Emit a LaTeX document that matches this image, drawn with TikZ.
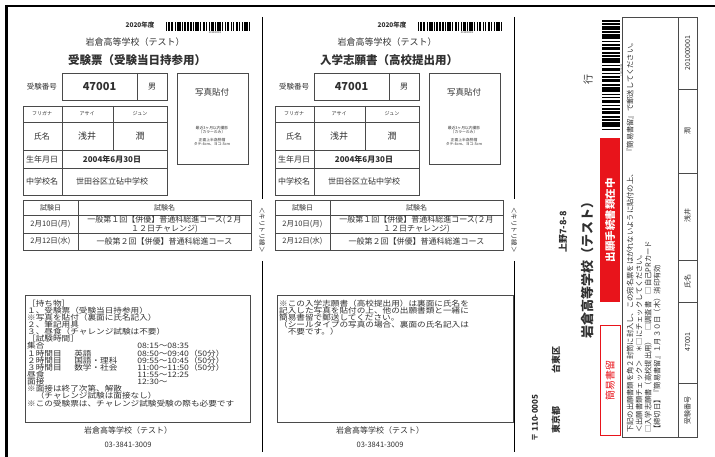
\documentclass[tikz,border=0pt]{standalone}
\usepackage{fontspec}
\setmainfont{Noto Sans CJK JP}
\usetikzlibrary{positioning}

\definecolor{ink}{HTML}{303030}
\definecolor{rulegray}{HTML}{4A4A4A}
\definecolor{stampred}{HTML}{E8141B}

\newcommand{\fsz}[1]{\fontsize{#1}{#1}\selectfont}
\newcommand{\barlist}{0/1,2/1,4/2,7/1,9/3,13/1,15/1,17/2,20/1,22/1,24/3,28/1,30/2,33/1,35/1,37/2,40/1,42/3,46/1,48/1,50/2,53/1,55/1,57/2,60/1,62/1,64/3,68/1}

\begin{document}
\begin{tikzpicture}[x=1pt, y=-1pt,
    lbl/.style={inner sep=0pt, text=ink},
    cell/.style={draw=rulegray, line width=0.7pt},
    memo/.style={lbl, anchor=north west, align=left, xscale=1.15, font=\fontsize{7.5}{7.14}\selectfont},
    up/.style={lbl, rotate=90},
    cutline/.style={draw=black, line width=0.6pt}]
\useasboundingbox (0,0) rectangle (715,457);

% frame
\draw[line width=2.5pt] (5,6) -- (715,6);
\draw[line width=3pt] (6.5,5) -- (6.5,457);

% two ticket panels
\foreach \p/\dx/\title in {1/0/受験票（受験当日持参用）, 2/252/入学志願書（高校提出用）}{
  \begin{scope}[shift={(\dx,0)}]
    % header
    \node[lbl, font=\bfseries\fsz{6.5}] (year\p) at (140,25) {2020年度};
    \foreach \s/\w in \barlist
      \fill (166+\s*1.22,22) rectangle ++(\w*1.22,9);
    \node[lbl, font=\fsz{2.5}] (code\p) at (215,33) {201000001};
    \node[lbl, font=\fsz{9}] (school\p) at (135,42) {岩倉高等学校（テスト）};
    \node[lbl, font=\bfseries\fsz{11.5}] (title\p) at (137,60) {\title};

    % number
    \node[lbl, font=\fsz{7.5}] (numlabel\p) at (42,87) {受験番号};
    \draw[cell] (62,73) rectangle (167,100) (137,73) -- (137,100);
    \node[lbl, font=\bfseries\fsz{11}] (num\p) at (99.5,87) {47001};
    \node[lbl, font=\fsz{8}] (sex\p) at (152,87) {男};

    % photo
    \draw[cell] (177,73) rectangle (248,164);
    \node[lbl, font=\fsz{8.5}] (photo\p) at (212,92) {写真貼付};
    \node[lbl, align=center, font=\fontsize{3.8}{4.6}\selectfont] (photonote\p) at (212,136)
      {最近3ヶ月以内撮影\\（カラーのみ）\\[3pt]正面上半身脱帽\\タテ:4cm、ヨコ:3cm};

    % personal data
    \draw[cell] (23,106) rectangle (167,195);
    \draw[cell] (23,122) -- (167,122) (23,150) -- (167,150) (23,168) -- (167,168)
      (62,106) -- (62,195) (113,106) -- (113,150);
    \node[lbl, font=\fsz{5}] (kanalabel\p) at (42,114) {フリガナ};
    \node[lbl, font=\fsz{5}] (kana1\p) at (87,114) {アサイ};
    \node[lbl, font=\fsz{5}] (kana2\p) at (140,114) {ジュン};
    \node[lbl, font=\fsz{8}] (namelabel\p) at (42,136) {氏名};
    \node[lbl, font=\fsz{9}] (name1\p) at (87,136) {浅井};
    \node[lbl, font=\fsz{9}] (name2\p) at (140,136) {潤};
    \node[lbl, font=\fsz{8}] (birthlabel\p) at (42,159) {生年月日};
    \node[lbl, font=\bfseries\fsz{8}] (birth\p) at (112,159) {2004年6月30日};
    \node[lbl, font=\fsz{8}] (jrlabel\p) at (42,181.5) {中学校名};
    \node[lbl, font=\fsz{8}] (jr\p) at (112,181.5) {世田谷区立砧中学校};

    % exams
    \draw[cell] (23,200) rectangle (251,250);
    \draw[cell] (23,215) -- (251,215) (23,233) -- (251,233) (78,200) -- (78,250);
    \node[lbl, font=\fsz{7}] (datehead\p) at (50.5,207.5) {試験日};
    \node[lbl, font=\fsz{7}] (examhead\p) at (164.5,207.5) {試験名};
    \node[lbl, font=\fsz{7.5}] (date1\p) at (50.5,224) {2月10日(月)};
    \node[lbl, align=center, font=\fontsize{8}{7.6}\selectfont] (exam1\p) at (164.5,224)
      {一般第１回【併優】普通科総進コース(２月\\１２日チャレンジ)};
    \node[lbl, font=\fsz{7.5}] (date2\p) at (50.5,241.5) {2月12日(水)};
    \node[lbl, font=\fsz{8}] (exam2\p) at (164.5,241.5) {一般第２回【併優】普通科総進コース};

    % footer
    \node[lbl, font=\fsz{8}] (foot\p) at (128,430) {岩倉高等学校（テスト）};
    \node[lbl, font=\fsz{7.5}] (tel\p) at (128,445) {03-3841-3009};
  \end{scope}
}

% memo boxes
\draw[cell] (25,295) rectangle (250,422);
\node[memo] (memo1) at (27,299.5) {［持ち物］\\
１、受験票（受験当日持参用）\\
※写真を貼付（裏面に氏名記入）\\
２、筆記用具\\
３、昼食（チャレンジ試験は不要）\\
［試験時間］\\
\makebox[40.9pt][l]{集合}\makebox[54.8pt][l]{}08:15～08:35\\
\makebox[40.9pt][l]{１時間目}\makebox[54.8pt][l]{英語}08:50～09:40（50分）\\
\makebox[40.9pt][l]{２時間目}\makebox[54.8pt][l]{国語・理科}09:55～10:45（50分）\\
\makebox[40.9pt][l]{３時間目}\makebox[54.8pt][l]{数学・社会}11:00～11:50（50分）\\
\makebox[40.9pt][l]{昼食}\makebox[54.8pt][l]{}11:55～12:25\\
\makebox[40.9pt][l]{面接}\makebox[54.8pt][l]{}12:30～\\
※面接は終了次第、解散\\
　（チャレンジ試験は面接なし）\\
※この受験票は、チャレンジ試験受験の際も必要です};

\draw[cell] (277,295) rectangle (513,422);
\node[memo] (memo2) at (279,299.5) {※この入学志願書（高校提出用）は裏面に氏名を\\
記入した写真を貼付の上、他の出願書類と一緒に\\
簡易書留で郵送してください。\\
（シールタイプの写真の場合、裏面の氏名記入は\\
　不要です。）};

% cut lines
\foreach \cx/\n in {262/1, 514/2}{
  \draw[cutline] (\cx,17) -- (\cx,199) (\cx,261) -- (\cx,452);
  \node[lbl, rotate=-90, font=\fsz{6.5}] (cut\n) at (\cx,230) {＜キリトリ線＞};
}

% address label
\node[up, font=\bfseries\fsz{8}] (zip) at (535,418) {〒 110-0005};
\node[up, font=\bfseries\fsz{9}] (pref) at (556,420) {東京都};
\node[up, font=\bfseries\fsz{9}] (ward) at (556,360) {台東区};
\node[up, font=\bfseries\fsz{9}] (street) at (563,232) {上野7-8-8};
\node[up, font=\bfseries\fsz{13}] (dest) at (588,267) {岩倉高等学校（テスト）};
\node[up, font=\fsz{10}] (suffix) at (588,80) {行};

\foreach \s/\w in \barlist
  \fill (602,20+\s*1.6) rectangle ++(18,\w*1.6);
\node[up, font=\fsz{2.5}] (code3) at (621.5,70) {201000001};

\fill[stampred] (600,138) rectangle (620,302);
\node[up, text=white, font=\bfseries\fsz{10.5}] (enclosed) at (610,220) {出願手続書類在中};
\draw[stampred, line width=0.8pt] (600,325) rectangle (620,435);
\node[up, text=stampred, font=\fsz{10}] (registered) at (610,380) {簡易書留};

% instructions
\draw[cell] (622,17) rectangle (678,437);
\node[up, anchor=west, font=\fsz{7.3}] (note1) at (630,433) {下記の出願書類を角２封筒に封入し、この宛名票をはがれないように貼付の上、　　『簡易書留』で郵送してください。};
\node[up, anchor=west, font=\fsz{7.3}] (note2) at (639,433) {＜出願書類チェック＞　＊□にチェックしてください。};
\node[up, anchor=west, font=\fsz{7.3}] (note3) at (648,433) {□入学志願書（高校提出用）　□調査書　□自己PRカード};
\node[up, anchor=west, font=\fsz{7.3}] (note4) at (657,433) {【締切日】『簡易書留』１月３０日（木）消印有効};

% id table
\draw[cell] (678,17) rectangle (697,437);
\draw[cell] (678,89) -- (697,89) (678,173) -- (697,173) (678,260) -- (697,260)
  (678,302) -- (697,302) (678,383) -- (697,383);
\node[up, font=\fsz{7}] (idlabel) at (687.5,410) {受験番号};
\node[up, font=\fsz{7}] (idnum) at (687.5,342) {47001};
\node[up, font=\fsz{7}] (idnamelabel) at (687.5,281) {氏名};
\node[up, font=\fsz{7}] (idname1) at (687.5,216) {浅井};
\node[up, font=\fsz{7}] (idname2) at (687.5,131) {潤};
\node[up, font=\fsz{7}] (idcode) at (687.5,53) {201000001};
\end{tikzpicture}
\end{document}
